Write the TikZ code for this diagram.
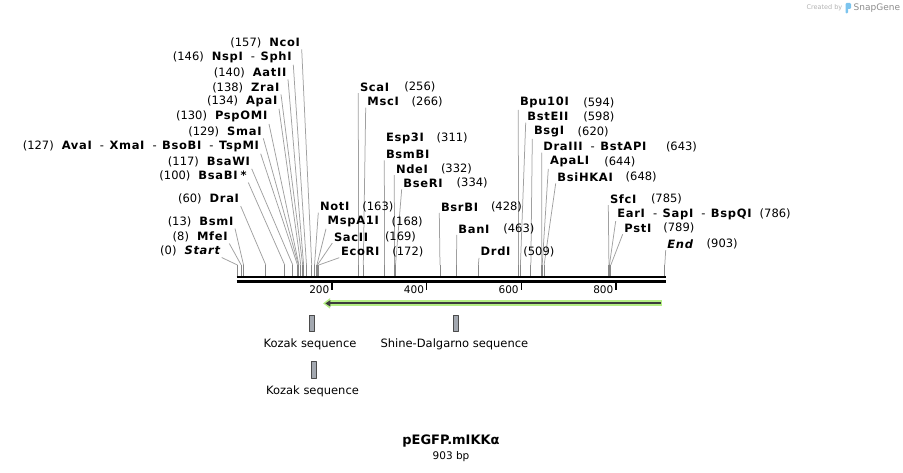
\documentclass[tikz,border=0pt]{standalone}
\usepackage{fontspec}
\setmainfont{DejaVu Sans}
\newfontfamily\enzfont[LetterSpace=6]{DejaVu Sans}
\usetikzlibrary{arrows.meta}
\definecolor{cutgray}{HTML}{A0A0A0}
\definecolor{stubgray}{HTML}{888888}
\definecolor{orfgreen}{HTML}{B4EE84}
\definecolor{orfdark}{HTML}{3C3C3C}
\definecolor{featfill}{HTML}{A3A8B0}
\definecolor{featline}{HTML}{4B4B4B}
\definecolor{snapblue}{HTML}{7CC4EE}
\newcommand{\bpx}[1]{237.4+0.4733*#1}
\newcommand{\numgap}{\hspace{8pt}}
\newcommand{\enz}[1]{{\enzfont\bfseries #1}}
\newcommand{\enzsep}{\hspace{8pt}{\mdseries-}\hspace{5.5pt}}

\begin{document}
\begin{tikzpicture}[line cap=butt,line join=round,x=1pt,y=-1pt,
    font=\fontsize{11.5}{13}\selectfont,
    enzL/.style={anchor=east,inner sep=1.5pt},
    enzR/.style={anchor=west,inner sep=1.5pt,font=\fontsize{11.5}{13}\selectfont\enzfont\bfseries},
    bpnum/.style={anchor=west,inner sep=1.5pt},
    cut/.style={draw=cutgray,line width=0.75pt},
    stub/.style={draw=stubgray,line width=0.9pt},
    bar/.style={line width=2.6pt},
    tick/.style={line width=1.4pt},
    ticklbl/.style={anchor=east,inner sep=0pt,font=\fontsize{10.5}{12}\selectfont},
    featbox/.style={draw=featline,fill=featfill,line width=0.7pt,inner sep=0pt,minimum width=5.5pt,minimum height=16.5pt},
    featlbl/.style={inner sep=1pt},
    orfband/.style={draw=orfgreen,line width=6pt,-{Triangle[length=7pt,width=10pt]}},
    orfcore/.style={draw=orfdark,line width=2pt,-{Triangle[length=5pt,width=6pt]}}]
\useasboundingbox (0,0) rectangle (903,473);

% sequence bar
\coordinate (barL) at (236.7,277);
\coordinate (barR) at (665.7,277);
\coordinate (barL2) at (236.7,281.4);
\coordinate (barR2) at (665.7,281.4);
\draw[bar] (barL) -- (barR);
\draw[bar] (barL2) -- (barR2);
\foreach \t in {200,400,600,800}{
  \coordinate (t\t) at ({\bpx{\t}},282.7);
  \draw[tick] (t\t) -- ++(0,7.5);
  \node[ticklbl] (tl\t) at ({\bpx{\t}-2.5},289.3) {\t};
}

% enzymes left of the cluster
\foreach \id/\bp/\xr/\yc/\txt in {
  start/0/221.7/250.7/{(0)\numgap\enz{\itshape Start}},
  mfeI/8/229.3/236.7/{(8)\numgap\enz{MfeI}},
  bsmI/13/235/221.7/{(13)\numgap\enz{BsmI}},
  draI/60/240.7/199.3/{(60)\numgap\enz{DraI}},
  bsaBI/100/248.3/175.7/{(100)\numgap\enz{BsaBI\hspace{3pt}*}},
  bsaWI/117/251.7/162/{(117)\numgap\enz{BsaWI}},
  avaI/127/260.7/146.5/{(127)\numgap\enz{AvaI}\enzsep\enz{XmaI}\enzsep\enz{BsoBI}\enzsep\enz{TspMI}},
  smaI/129/263.3/131.5/{(129)\numgap\enz{SmaI}},
  pspOMI/130/269/116.7/{(130)\numgap\enz{PspOMI}},
  apaI/134/279/101.5/{(134)\numgap\enz{ApaI}},
  zraI/138/281/87.5/{(138)\numgap\enz{ZraI}},
  aatII/140/288/72.5/{(140)\numgap\enz{AatII}},
  nspI/146/293.3/57.5/{(146)\numgap\enz{NspI}\enzsep\enz{SphI}},
  ncoI/157/301.7/42.5/{(157)\numgap\enz{NcoI}}}{
  \node[enzL] (\id) at (\xr,\yc) {\txt};
  \coordinate (k\id) at ({\bpx{\bp}},265);
  \coordinate (s\id) at ({\bpx{\bp}},276);
  \draw[cut] (\id.south east) -- (k\id);
  \draw[stub] (k\id) -- (s\id);
}

% enzymes right of their sites
\foreach \id/\bp/\xs/\yc/\txt in {
  scaI/256/358.3/87/ScaI,
  mscI/266/365.7/101.7/MscI,
  bsmBI/311/384.3/154.3/BsmBI,
  ndeI/332/394.3/169/NdeI,
  bseRI/334/401.7/183.3/BseRI,
  notI/163/318.3/206.7/NotI,
  mspA1I/168/326/221.7/MspA1I,
  sacII/169/332.3/237/SacII,
  ecoRI/172/339.3/251.7/EcoRI,
  bsrBI/428/439.3/207/BsrBI,
  banI/463/456.7/229/BanI,
  drdI/509/479/251.7/DrdI,
  bpu10I/594/518.3/102.7/Bpu10I,
  bstEII/598/525.7/116.7/BstEII,
  bsgI/620/532.3/131.7/BsgI,
  draIII/643/541.7/146.7/{DraIII\enzsep BstAPI},
  apaLI/644/548.3/161.7/ApaLI,
  bsiHKAI/648/555.7/177.3/BsiHKAI,
  sfcI/785/608.3/199/SfcI,
  earI/786/615.7/214/{EarI\enzsep SapI\enzsep BspQI},
  pstI/789/622.7/228.3/PstI,
  endmark/903/665.7/244/{\itshape End}}{
  \node[enzR] (\id) at (\xs,\yc) {\txt};
  \coordinate (k\id) at ({\bpx{\bp}},265);
  \coordinate (s\id) at ({\bpx{\bp}},276);
  \draw[cut] (\id.south west) -- (k\id);
  \draw[stub] (k\id) -- (s\id);
}
\node[enzR] (esp3I) at (384.3,138.3) {Esp3I};

% positions
\foreach \id/\xn/\yc/\num in {
  scaI/402.7/87/256, mscI/410/101.7/266, esp3I/435/138.3/311,
  ndeI/439.3/169/332, bseRI/455/183.3/334, notI/360.7/206.7/163,
  mspA1I/390/221.7/168, sacII/383.3/237/169, ecoRI/390.7/251.7/172,
  bsrBI/489.3/207/428, banI/501.7/229/463, drdI/521.7/251.7/509,
  bpu10I/581.7/102.7/594, bstEII/581.7/116.7/598, bsgI/576/131.7/620,
  draIII/664.3/146.7/643, apaLI/602.7/161.7/644, bsiHKAI/624/177.3/648,
  sfcI/649.3/199/785, earI/758/214/786, pstI/661.7/228.3/789,
  endmark/705/244/903}{
  \node[bpnum] (n\id) at (\xn,\yc) {(\num)};
}

% ORF arrow
\coordinate (orfR) at (662,303.4);
\coordinate (orfL) at (323,303.4);
\draw[orfband] (orfR) -- (orfL);
\draw[orfcore,shorten <=1.5pt,shorten >=2.3pt] (orfR) -- (orfL);

% features
\node[featbox] (koz1) at (311.9,323.3) {};
\node[featlbl] (koz1lbl) at (310,344.7) {Kozak sequence};
\node[featbox] (sd) at (455.6,323.3) {};
\node[featlbl] (sdlbl) at (454.4,344.7) {Shine-Dalgarno sequence};
\node[featbox] (koz2) at (313.6,370) {};
\node[featlbl] (koz2lbl) at (312.5,391.7) {Kozak sequence};

% title
\node[font=\fontsize{13}{15}\selectfont\bfseries] (title) at (451,441) {pEGFP.mIKKα};
\node[font=\fontsize{10.5}{12}\selectfont] (size) at (451,457) {903 bp};

% credit
\node[anchor=east,inner sep=0pt,text=black!30,font=\fontsize{6.5}{8}\selectfont] (credit) at (842.5,8) {Created by};
\fill[snapblue,rounded corners=1.2pt] (845.5,3) rectangle (851,9) (845.5,3) rectangle (848,13.5);
\node[anchor=west,inner sep=0pt,text=black!45,font=\fontsize{9}{10}\selectfont] (brand) at (853.5,8) {SnapGene};
\end{tikzpicture}
\end{document}
